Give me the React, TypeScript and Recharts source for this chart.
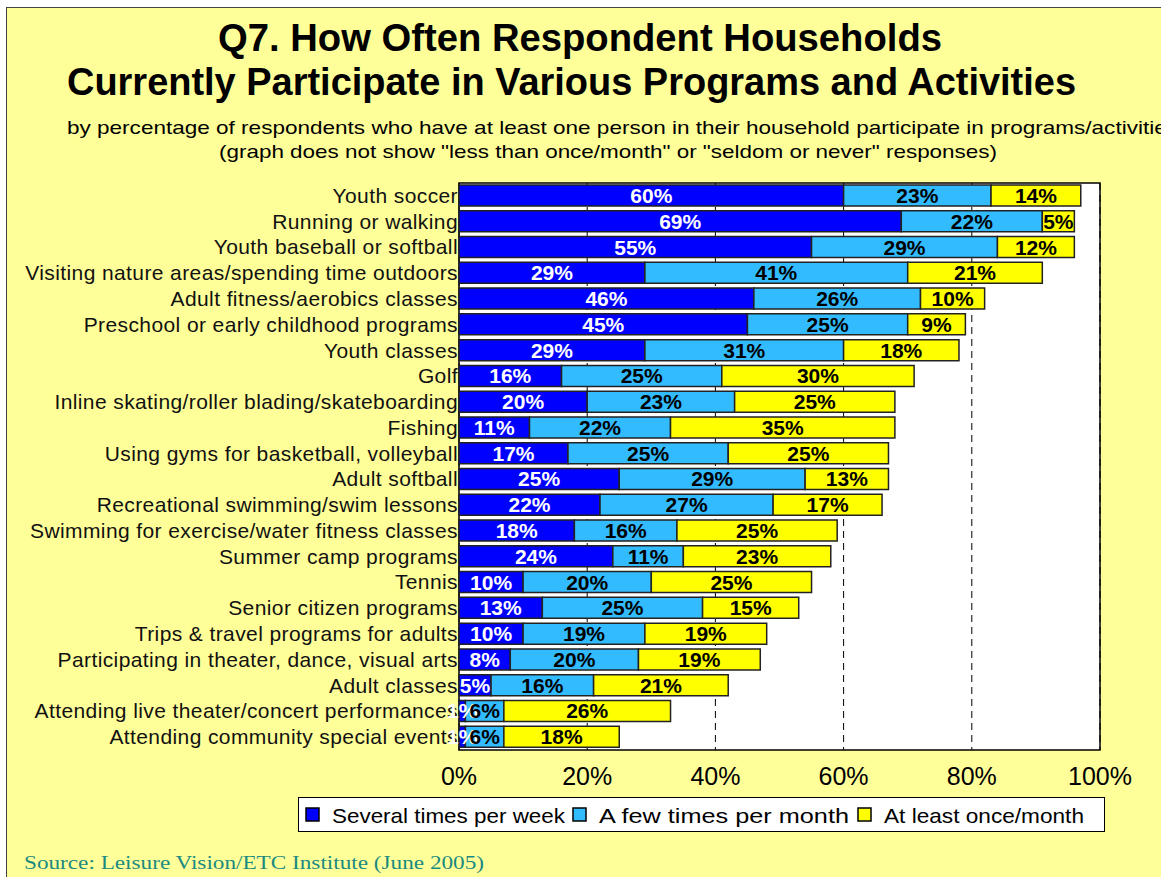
import React from 'react';
import { BarChart, Bar, XAxis, YAxis, CartesianGrid, LabelList, ReferenceArea } from 'recharts';

const categories = [
  'Youth soccer',
  'Running or walking',
  'Youth baseball or softball',
  'Visiting nature areas/spending time outdoors',
  'Adult fitness/aerobics classes',
  'Preschool or early childhood programs',
  'Youth classes',
  'Golf',
  'Inline skating/roller blading/skateboarding',
  'Fishing',
  'Using gyms for basketball, volleyball',
  'Adult softball',
  'Recreational swimming/swim lessons',
  'Swimming for exercise/water fitness classes',
  'Summer camp programs',
  'Tennis',
  'Senior citizen programs',
  'Trips & travel programs for adults',
  'Participating in theater, dance, visual arts',
  'Adult classes',
  'Attending live theater/concert performances',
  'Attending community special events',
];

const severalPerWeek = [60, 69, 55, 29, 46, 45, 29, 16, 20, 11, 17, 25, 22, 18, 24, 10, 13, 10, 8, 5, 1, 1];
const fewPerMonth = [23, 22, 29, 41, 26, 25, 31, 25, 23, 22, 25, 29, 27, 16, 11, 20, 25, 19, 20, 16, 6, 6];
const oncePerMonth = [14, 5, 12, 21, 10, 9, 18, 30, 25, 35, 25, 13, 17, 25, 23, 25, 15, 19, 19, 21, 26, 18];

const xTicks = [0, 20, 40, 60, 80, 100];

const series = [
  { key: 'several', name: 'Several times per week', color: '#0000FF', labelColor: '#FFFFFF' },
  { key: 'few', name: 'A few times per month', color: '#33BBFF', labelColor: '#000000' },
  { key: 'once', name: 'At least once/month', color: '#FFFF00', labelColor: '#000000' },
];

const data = categories.map((name, i) => ({
  name,
  several: severalPerWeek[i],
  few: fewPerMonth[i],
  once: oncePerMonth[i],
}));

const NARROW = "'Liberation Sans Narrow', 'Arial Narrow', 'Liberation Sans', Arial, sans-serif";
const SANS = "'Liberation Sans', Arial, sans-serif";

const CategoryTick = (props: any) => {
  const { x, y, payload } = props;
  return (
    <text x={x} y={y} dy={7} textAnchor="end" fontSize={21} letterSpacing={0.4} fontFamily={SANS} fill="#111">
      {payload.value}
    </text>
  );
};

function LegendBox() {
  const offsets = [7, 274, 559];
  const widths = [233, 250, 200];
  return (
    <div style={{ position: 'absolute', left: 298, top: 797, width: 805, height: 33, border: '1.5px solid #000', background: '#fff' }}>
      <svg width={805} height={33}>
        {series.map((s, i) => (
          <g key={s.key}>
            <rect x={offsets[i]} y={10} width={13} height={13} fill={s.color} stroke="#000" strokeWidth={1.5} />
            <text x={offsets[i] + 26} y={25} fontSize={21} fontFamily={NARROW} fill="#000" textLength={widths[i]} lengthAdjust="spacingAndGlyphs">
              {s.name}
            </text>
          </g>
        ))}
      </svg>
    </div>
  );
}

export default function App() {
  return (
    <div style={{ position: 'absolute', left: 0, top: 0, width: 1161, height: 877, background: '#fff', overflow: 'hidden' }}>
      <div style={{ position: 'absolute', left: 6, top: 7, width: 1200, height: 900, background: '#FFFF99', border: '1.5px solid #444' }} />
      <svg style={{ position: 'absolute', left: 0, top: 0 }} width={1161} height={877}>
        <text x={218} y={51} fontSize={38} fontWeight="bold" fontFamily={NARROW} fill="#000" textLength={724} lengthAdjust="spacingAndGlyphs">
          Q7. How Often Respondent Households
        </text>
        <text x={67} y={95} fontSize={38} fontWeight="bold" fontFamily={NARROW} fill="#000" textLength={1009} lengthAdjust="spacingAndGlyphs">
          Currently Participate in Various Programs and Activities
        </text>
        <text x={67} y={134} fontSize={19} fontFamily={NARROW} fill="#000" textLength={1111} lengthAdjust="spacingAndGlyphs">
          by percentage of respondents who have at least one person in their household participate in programs/activities
        </text>
        <text x={219} y={158} fontSize={19} fontFamily={NARROW} fill="#000" textLength={778} lengthAdjust="spacingAndGlyphs">
          (graph does not show "less than once/month" or "seldom or never" responses)
        </text>
        <text x={24} y={869} fontSize={19} fontFamily="'Liberation Serif', 'Times New Roman', serif" fill="#1B8A80" textLength={460} lengthAdjust="spacingAndGlyphs">
          Source:  Leisure Vision/ETC Institute (June 2005)
        </text>
      </svg>
      <div style={{ position: 'absolute', left: 0, top: 0 }}>
        <BarChart
          width={1161}
          height={877}
          data={data}
          layout="vertical"
          barSize={21}
          margin={{ top: 183, right: 61, bottom: 97, left: 0 }}
        >
          <CartesianGrid horizontal={false} vertical strokeDasharray="7 5" stroke="#000" fill="#fff" fillOpacity={1} />
          <XAxis
            type="number"
            domain={[0, 100]}
            ticks={xTicks}
            tickFormatter={(v: number) => `${v}%`}
            axisLine={false}
            tickLine={false}
            tickSize={0}
            tickMargin={17}
            height={30}
            tick={{ fontSize: 25, fill: '#000', fontFamily: NARROW }}
          />
          <YAxis
            type="category"
            dataKey="name"
            width={459}
            axisLine={false}
            tickLine={false}
            tickSize={0}
            tickMargin={1}
            interval={0}
            tick={<CategoryTick />}
          />
          {series.map(s => (
            <Bar key={s.key} dataKey={s.key} stackId="a" name={s.name} fill={s.color} stroke="#222" strokeWidth={1.5} isAnimationActive={false}>
              <LabelList
                dataKey={s.key}
                position="center"
                fill={s.labelColor}
                fontSize={21}
                fontWeight="bold"
                fontFamily={NARROW}
                formatter={(v: any) => `${v}%`}
              />
            </Bar>
          ))}
          <ReferenceArea x1={0} x2={100} fill="none" stroke="#000" strokeWidth={1.5} ifOverflow="visible" />
        </BarChart>
      </div>
      <LegendBox />
    </div>
  );
}
